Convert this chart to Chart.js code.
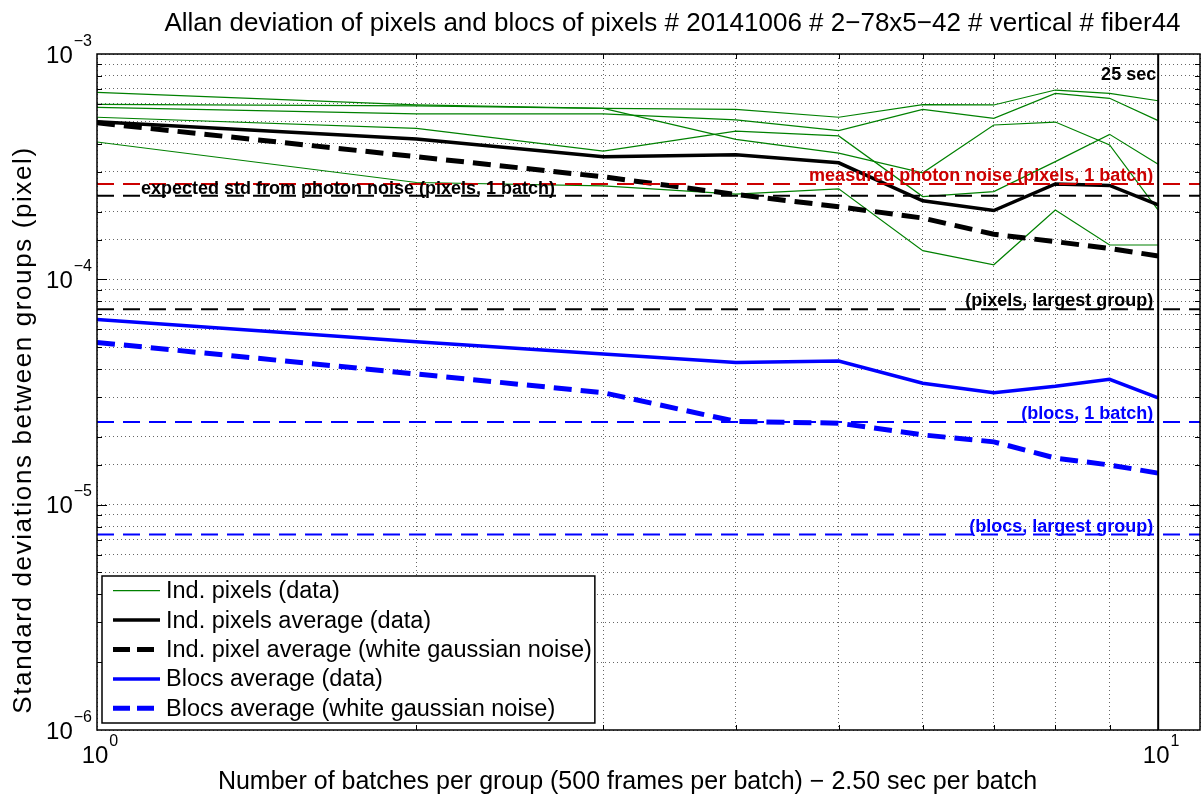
<!DOCTYPE html>
<html>
<head>
<meta charset="utf-8">
<script src="https://cdn.jsdelivr.net/npm/chart.js@4.4.1/dist/chart.umd.min.js"></script>
<style>
  html, body { margin: 0; padding: 0; background: #fff; }
  #wrap { width: 1204px; height: 801px; }
</style>
</head>
<body>
<div id="wrap"><canvas id="allan" width="1204" height="801"></canvas></div>
<script>
// Number of batches per group
const batches = [1, 2, 3, 4, 5, 6, 7, 8, 9, 10];

// Allan deviation of individual pixels (data)
const pixel1 = [6.76e-4, 5.94e-4, 5.74e-4, 5.68e-4, 5.24e-4, 5.96e-4, 5.94e-4, 6.92e-4, 6.69e-4, 6.20e-4];
const pixel2 = [5.98e-4, 5.88e-4, 5.74e-4, 4.18e-4, 3.63e-4, 2.97e-4, 4.84e-4, 4.99e-4, 3.95e-4, 2.03e-4];
const pixel3 = [5.80e-4, 5.42e-4, 5.42e-4, 5.10e-4, 4.57e-4, 5.68e-4, 5.18e-4, 6.69e-4, 6.36e-4, 5.06e-4];
const pixel4 = [5.24e-4, 4.68e-4, 3.71e-4, 4.55e-4, 4.33e-4, 2.33e-4, 2.45e-4, 3.33e-4, 4.40e-4, 3.24e-4];
const pixel5 = [4.07e-4, 2.69e-4, 2.60e-4, 2.39e-4, 2.52e-4, 1.34e-4, 1.16e-4, 2.03e-4, 1.42e-4, 1.42e-4];

// Averages
const pixelAvg      = [5.00e-4, 4.20e-4, 3.50e-4, 3.57e-4, 3.29e-4, 2.23e-4, 2.02e-4, 2.65e-4, 2.61e-4, 2.14e-4];
const pixelAvgNoise = [4.95e-4, 3.50e-4, 2.85e-4, 2.38e-4, 2.10e-4, 1.87e-4, 1.585e-4, 1.47e-4, 1.37e-4, 1.27e-4];
const blocsAvg      = [6.64e-5, 5.29e-5, 4.66e-5, 4.27e-5, 4.34e-5, 3.46e-5, 3.14e-5, 3.35e-5, 3.60e-5, 2.98e-5];
const blocsAvgNoise = [5.25e-5, 3.80e-5, 3.14e-5, 2.34e-5, 2.30e-5, 2.04e-5, 1.90e-5, 1.61e-5, 1.50e-5, 1.38e-5];

// Reference levels
const measuredPhotonPixels = 2.65e-4;
const expectedPixelsOneBatch = 2.35e-4;
const expectedPixelsLargest = 7.37e-5;
const expectedBlocsOneBatch = 2.33e-5;
const expectedBlocsLargest = 7.37e-6;
const markerBatches = 10; // 25 sec

// Axis limits
const X_MIN = 1, X_MAX = 10.95;
const Y_MIN = 1e-6, Y_MAX = 1e-3;

// Texts
const TITLE = 'Allan deviation of pixels and blocs of pixels # 20141006 # 2\u221278x5\u221242 # vertical # fiber44';
const X_TITLE = 'Number of batches per group (500 frames per batch) \u2212 2.50 sec per batch';
const Y_TITLE = 'Standard deviations between groups (pixel)';

const FONT = "'Liberation Sans', Arial, Helvetica, sans-serif";
const GREEN = '#008000';
const RED = '#cc0000';
const BLUE = '#0000ff';

const pts = arr => batches.map((b, i) => ({ x: b, y: arr[i] }));
const level = v => [{ x: X_MIN, y: v }, { x: X_MAX, y: v }];

const datasets = [];
[pixel1, pixel2, pixel3, pixel4, pixel5].forEach((arr, i) => {
  datasets.push({
    label: i === 0 ? 'Ind. pixels (data)' : undefined,
    data: pts(arr), borderColor: GREEN, borderWidth: 1.2, order: 10
  });
});
datasets.push({ label: 'Ind. pixels average (data)', data: pts(pixelAvg), borderColor: '#000', borderWidth: 3.5, order: 8 });
datasets.push({ label: 'Ind. pixel average (white gaussian noise)', data: pts(pixelAvgNoise), borderColor: '#000', borderWidth: 5, borderDash: [18, 9], order: 7 });
datasets.push({ label: 'Blocs average (data)', data: pts(blocsAvg), borderColor: BLUE, borderWidth: 3.5, order: 6 });
datasets.push({ label: 'Blocs average (white gaussian noise)', data: pts(blocsAvgNoise), borderColor: BLUE, borderWidth: 5, borderDash: [18, 9], order: 5 });
datasets.push({ data: level(measuredPhotonPixels), borderColor: RED, borderWidth: 2, borderDash: [17, 9], order: 4 });
datasets.push({ data: level(expectedPixelsOneBatch), borderColor: '#000', borderWidth: 2, borderDash: [17, 9], order: 4 });
datasets.push({ data: level(expectedPixelsLargest), borderColor: '#000', borderWidth: 2, borderDash: [17, 9], order: 4 });
datasets.push({ data: level(expectedBlocsOneBatch), borderColor: BLUE, borderWidth: 2, borderDash: [17, 9], order: 4 });
datasets.push({ data: level(expectedBlocsLargest), borderColor: BLUE, borderWidth: 2, borderDash: [17, 9], order: 4 });
datasets.push({ data: [{ x: markerBatches, y: Y_MIN }, { x: markerBatches, y: Y_MAX }], borderColor: '#000', borderWidth: 2, order: 3 });

const isDecade = v => { const l = Math.log10(v); return Math.abs(l - Math.round(l)) < 1e-6; };

// Powers of ten written as base with raised exponent
function drawPower(ctx, exp, x, baseline, align) {
  ctx.font = `24px ${FONT}`;
  const wb = ctx.measureText('10').width;
  ctx.font = `16px ${FONT}`;
  const we = ctx.measureText(exp).width;
  let x0;
  if (align === 'right') x0 = x - (wb + 1 + we);
  else x0 = x - wb / 2 - 2;
  ctx.textAlign = 'left';
  ctx.textBaseline = 'alphabetic';
  ctx.fillStyle = '#000';
  ctx.font = `24px ${FONT}`;
  ctx.fillText('10', x0, baseline);
  ctx.font = `16px ${FONT}`;
  ctx.fillText(exp, x0 + wb + 1, baseline - 17);
}

// Inward ticks on all four sides, the box, and the level annotations
const axesFrame = {
  id: 'axesFrame',
  afterDatasetsDraw(chart) {
    const { ctx, chartArea: a, scales: { x, y } } = chart;
    ctx.save();
    ctx.strokeStyle = '#000';
    ctx.lineWidth = 1;
    ctx.setLineDash([]);
    ctx.beginPath();
    x.ticks.forEach(t => {
      if (t.value <= X_MIN || t.value >= X_MAX) return;
      const px = Math.round(x.getPixelForValue(t.value)) + 0.5;
      const len = isDecade(t.value) ? 10 : 5;
      ctx.moveTo(px, a.bottom); ctx.lineTo(px, a.bottom - len);
      ctx.moveTo(px, a.top); ctx.lineTo(px, a.top + len);
    });
    y.ticks.forEach(t => {
      if (t.value <= Y_MIN || t.value >= Y_MAX) return;
      const py = Math.round(y.getPixelForValue(t.value)) + 0.5;
      const len = isDecade(t.value) ? 10 : 5;
      ctx.moveTo(a.left, py); ctx.lineTo(a.left + len, py);
      ctx.moveTo(a.right, py); ctx.lineTo(a.right - len, py);
    });
    ctx.stroke();
    ctx.lineWidth = 1.5;
    ctx.strokeRect(a.left, a.top, a.right - a.left, a.bottom - a.top);

    // level annotations
    ctx.font = `bold 18px ${FONT}`;
    ctx.textBaseline = 'alphabetic';
    const xr = x.getPixelForValue(markerBatches) - 5;
    const xl = x.getPixelForValue(1.1);
    const put = (txt, px, v, color, align, lift) => {
      ctx.fillStyle = color;
      ctx.textAlign = align;
      ctx.fillText(txt, px, y.getPixelForValue(v) - lift);
    };
    put('expected std from photon noise (pixels, 1 batch)', xl, expectedPixelsOneBatch, '#000', 'left', 2);
    put('measured photon noise (pixels, 1 batch)', xr, measuredPhotonPixels, RED, 'right', 3);
    put('(pixels, largest group)', xr, expectedPixelsLargest, '#000', 'right', 3);
    put('(blocs, 1 batch)', xr, expectedBlocsOneBatch, BLUE, 'right', 3);
    put('(blocs, largest group)', xr, expectedBlocsLargest, BLUE, 'right', 3);
    ctx.fillStyle = '#000';
    ctx.textAlign = 'right';
    ctx.fillText('25 sec', x.getPixelForValue(markerBatches) - 2, a.top + 26);
    ctx.restore();
  },
  afterDraw(chart) {
    const { ctx, chartArea: a, scales: { x, y } } = chart;
    ctx.save();
    const midX = (a.left + a.right) / 2;
    const midY = (a.top + a.bottom) / 2;

    // titles
    ctx.fillStyle = '#000';
    ctx.textBaseline = 'alphabetic';
    ctx.textAlign = 'center';
    ctx.font = `26px ${FONT}`;
    ctx.fillText(TITLE, midX + 24, a.top - 23);
    ctx.font = `25px ${FONT}`;
    ctx.fillText(X_TITLE, midX - 21, a.bottom + 59);
    ctx.save();
    ctx.translate(31, midY + 38);
    ctx.rotate(-Math.PI / 2);
    ctx.font = `26px ${FONT}`;
    if ('letterSpacing' in ctx) ctx.letterSpacing = '1.6px';
    ctx.fillText(Y_TITLE, 0, 0);
    ctx.restore();

    // tick labels
    y.ticks.forEach(t => {
      if (!isDecade(t.value)) return;
      const e = Math.round(Math.log10(t.value));
      drawPower(ctx, '\u2212' + Math.abs(e), a.left - 5, y.getPixelForValue(t.value) + 8.5, 'right');
    });
    x.ticks.forEach(t => {
      if (!isDecade(t.value)) return;
      const e = Math.round(Math.log10(t.value));
      drawPower(ctx, String(e), x.getPixelForValue(t.value), a.bottom + 33, 'center');
    });

    // legend
    const items = chart.data.datasets.filter(d => d.label);
    const rowH = 29.4;
    const boxL = a.left + 5;
    const boxB = a.bottom - 7;
    const boxT = boxB - rowH * items.length;
    ctx.font = `23.5px ${FONT}`;
    const tw = Math.max(...items.map(d => ctx.measureText(d.label).width));
    const textX = boxL + 64;
    const boxR = textX + tw + 3;
    ctx.fillStyle = '#fff';
    ctx.fillRect(boxL, boxT, boxR - boxL, boxB - boxT);
    ctx.strokeStyle = '#000';
    ctx.lineWidth = 1.5;
    ctx.setLineDash([]);
    ctx.strokeRect(boxL, boxT, boxR - boxL, boxB - boxT);
    items.forEach((d, i) => {
      const cy = boxT + rowH / 2 + i * rowH;
      ctx.beginPath();
      ctx.strokeStyle = d.borderColor;
      ctx.lineWidth = d.borderWidth;
      ctx.setLineDash(d.borderDash ? [17, 7] : []);
      ctx.moveTo(boxL + 11, cy);
      ctx.lineTo(boxL + 58, cy);
      ctx.stroke();
      ctx.setLineDash([]);
      ctx.fillStyle = '#000';
      ctx.textAlign = 'left';
      ctx.textBaseline = 'middle';
      ctx.fillText(d.label, textX, cy + 1);
    });
    ctx.restore();
  }
};

new Chart(document.getElementById('allan'), {
  type: 'line',
  data: { datasets },
  options: {
    responsive: false,
    animation: false,
    devicePixelRatio: 1,
    layout: { padding: { top: 54, right: 4, bottom: 0, left: 0 } },
    elements: { point: { radius: 0 }, line: { tension: 0, fill: false, borderCapStyle: 'butt' } },
    plugins: {
      legend: { display: false },
      tooltip: { enabled: false },
      title: { display: false }
    },
    scales: {
      x: {
        type: 'logarithmic',
        min: X_MIN, max: X_MAX,
        ticks: { display: false, autoSkip: false },
        grid: { color: 'rgba(0,0,0,0.6)', lineWidth: 1, drawTicks: false },
        border: { display: false, dash: [1, 3] },
        afterFit: s => { s.height = 71; }
      },
      y: {
        type: 'logarithmic',
        min: Y_MIN, max: Y_MAX,
        ticks: { display: false, autoSkip: false },
        grid: { color: 'rgba(0,0,0,0.6)', lineWidth: 1, drawTicks: false },
        border: { display: false, dash: [1, 3] },
        afterFit: s => { s.width = 97; }
      }
    }
  },
  plugins: [axesFrame]
});
</script>
</body>
</html>
